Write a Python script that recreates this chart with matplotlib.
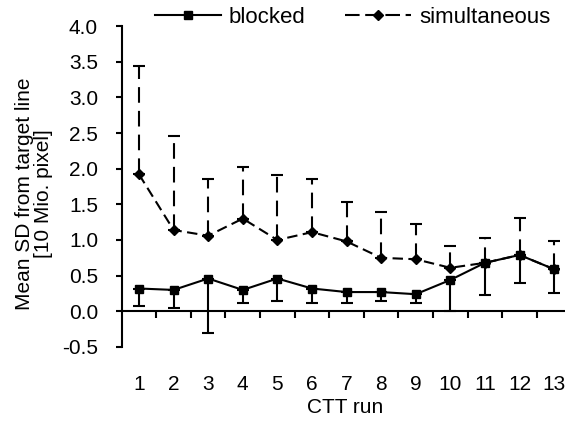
import numpy as np
import matplotlib
matplotlib.use('Agg')
import matplotlib.pyplot as plt
from matplotlib.lines import Line2D

plt.rcParams['font.family'] = ['Liberation Sans', 'DejaVu Sans']

# datos
runs = np.arange(1, 14)
blocked = [0.32, 0.30, 0.46, 0.30, 0.46, 0.32, 0.27, 0.27, 0.24, 0.44, 0.68, 0.79, 0.59]
blocked_sd = [0.25, 0.26, 0.76, 0.18, 0.31, 0.20, 0.15, 0.12, 0.12, 0.43, 0.45, 0.39, 0.33]
simult = [1.92, 1.14, 1.06, 1.30, 1.00, 1.11, 0.98, 0.75, 0.73, 0.61, 0.68, 0.79, 0.59]
simult_sd = [1.52, 1.32, 0.80, 0.73, 0.91, 0.75, 0.55, 0.64, 0.50, 0.31, 0.35, 0.52, 0.39]
yticks = np.arange(-0.5, 4.01, 0.5)

fs = 15
lw = 1.5
dash = (5, 2.6)

fig = plt.figure(figsize=(5.65, 4.21), dpi=100)
ax = fig.add_axes([0.2154, 0.1758, 0.796, 0.7624])

# blocked: barras solo hacia abajo
ax.errorbar(runs, blocked, yerr=[blocked_sd, np.zeros(13)], color='black', lw=lw,
            marker='s', ms=6, elinewidth=lw, capsize=4, capthick=lw, zorder=3)
# simultaneous: barras solo hacia arriba, discontinuas
eb = ax.errorbar(runs, simult, yerr=[np.zeros(13), simult_sd], color='black', lw=lw,
                 marker='D', ms=5.5, elinewidth=lw, capsize=4, capthick=lw,
                 dashes=dash, zorder=3)
for col in eb[2]:
    col.set_linestyle((0, (dash[0] * lw, dash[1] * lw)))

ax.set_xlim(0.5, 13.5)
ax.set_ylim(-0.5, 4.0)
ax.set_yticks(yticks)
ax.set_yticklabels([f'{v:.1f}' for v in yticks], fontsize=fs)
ax.tick_params(axis='y', direction='out', length=4, width=lw, pad=13)

ax.spines['top'].set_visible(False)
ax.spines['right'].set_visible(False)
ax.spines['left'].set_linewidth(lw)
ax.spines['bottom'].set_position(('data', 0))
ax.spines['bottom'].set_linewidth(lw)

# marcas entre categorias, etiquetas al pie
ax.set_xticks(np.arange(1.5, 13, 1))
ax.set_xticklabels([])
ax.tick_params(axis='x', which='major', direction='out', length=5, width=lw)
ax.set_xticks(runs, minor=True)
ax.set_xticklabels([str(r) for r in runs], minor=True, fontsize=fs)
ax.tick_params(axis='x', which='minor', length=0, pad=46)

ax.set_xlabel('CTT run', fontsize=fs)
ax.xaxis.set_label_coords(0.496, -0.16)
fig.text(0.06, 0.539, 'Mean SD from target line\n[10 Mio. pixel]', rotation=90,
         ha='center', va='center', multialignment='center', fontsize=fs,
         linespacing=1.0)

handles = [Line2D([], [], color='black', lw=lw, marker='s', ms=6),
           Line2D([], [], color='black', lw=lw, marker='D', ms=5.5, dashes=(7, 2.7))]
fig.legend(handles, ['blocked', 'simultaneous'], loc='center', ncol=2,
           bbox_to_anchor=(0.624, 0.958), frameon=False, fontsize=16,
           handlelength=2.97, columnspacing=1.8, handletextpad=0.36)

fig.savefig('out.png', dpi=100)
